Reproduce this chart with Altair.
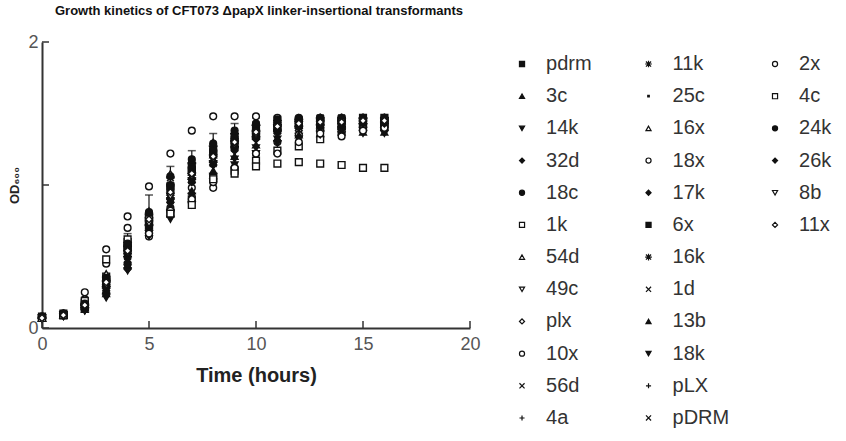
import altair as alt
import pandas as pd

times = list(range(17))

# OD600 readings per transformant (hours 0..16)
od_pdrm = [.07, .09, .15, .32, .55, .78, .98, 1.10, 1.22, 1.30, 1.36, 1.40, 1.42, 1.43, 1.43, 1.44, 1.44]
od_3c   = [.07, .09, .14, .30, .52, .74, .93, 1.06, 1.18, 1.28, 1.35, 1.40, 1.42, 1.42, 1.43, 1.43, 1.43]
od_14k  = [.06, .08, .12, .22, .42, .66, .80, .92, 1.06, 1.18, 1.26, 1.32, 1.34, 1.36, 1.37, 1.38, 1.38]
od_32d  = [.07, .09, .13, .25, .45, .68, .90, 1.04, 1.16, 1.26, 1.33, 1.38, 1.41, 1.42, 1.42, 1.43, 1.43]
od_18c  = [.08, .10, .16, .34, .58, .80, 1.00, 1.12, 1.24, 1.33, 1.39, 1.42, 1.44, 1.45, 1.45, 1.45, 1.45]
od_1k   = [.07, .09, .17, .36, .60, .72, .80, .90, 1.05, 1.10, 1.17, 1.24, 1.27, 1.32, 1.38, 1.40, 1.41]
od_54d  = [.07, .09, .15, .31, .54, .75, .95, 1.09, 1.21, 1.31, 1.38, 1.42, 1.44, 1.45, 1.45, 1.45, 1.46]
od_49c  = [.07, .09, .14, .28, .50, .72, .92, 1.06, 1.19, 1.29, 1.36, 1.40, 1.43, 1.44, 1.44, 1.44, 1.45]
od_plx  = [.07, .09, .15, .29, .41, .70, .88, 1.02, 1.14, 1.25, 1.32, 1.36, 1.38, 1.39, 1.39, 1.38, 1.38]
od_10x  = [.07, .09, .16, .33, .56, .64, .84, .98, .98, 1.12, 1.22, 1.30, 1.35, 1.38, 1.40, 1.41, 1.42]
od_56d  = [.07, .09, .14, .27, .48, .70, .89, 1.03, 1.15, 1.26, 1.34, 1.39, 1.42, 1.43, 1.43, 1.44, 1.44]
od_4a   = [.07, .09, .15, .30, .51, .73, .91, 1.05, 1.17, 1.27, 1.35, 1.39, 1.42, 1.43, 1.44, 1.44, 1.44]
od_11k  = [.07, .10, .16, .33, .57, .77, 1.05, 1.15, 1.27, 1.36, 1.42, 1.45, 1.46, 1.47, 1.47, 1.47, 1.47]
od_25c  = [.07, .09, .15, .31, .53, .76, .94, 1.07, 1.19, 1.29, 1.36, 1.41, 1.43, 1.44, 1.45, 1.45, 1.45]
od_16x  = [.07, .09, .18, .38, .62, .82, 1.08, 1.18, 1.30, 1.38, 1.44, 1.46, 1.47, 1.47, 1.47, 1.47, 1.47]
od_18x  = [.07, .09, .25, .55, .78, .99, 1.22, 1.38, 1.48, 1.48, 1.48, 1.47, 1.46, 1.46, 1.45, 1.45, 1.45]
od_17k  = [.07, .09, .13, .26, .46, .69, .88, 1.02, 1.14, 1.24, 1.32, 1.37, 1.40, 1.40, 1.40, 1.39, 1.39]
od_6x   = [.08, .10, .16, .34, .56, .78, .99, 1.12, 1.24, 1.33, 1.39, 1.43, 1.45, 1.46, 1.46, 1.47, 1.47]
od_16k  = [.07, .09, .14, .29, .50, .72, .91, 1.05, 1.17, 1.27, 1.34, 1.39, 1.41, 1.42, 1.43, 1.43, 1.43]
od_1d   = [.07, .09, .15, .31, .53, .75, .93, 1.07, 1.19, 1.29, 1.36, 1.40, 1.42, 1.43, 1.44, 1.44, 1.44]
od_13b  = [.07, .09, .13, .24, .44, .67, .85, .96, 1.10, 1.20, 1.28, 1.33, 1.35, 1.36, 1.37, 1.37, 1.37]
od_18k  = [.06, .08, .12, .21, .40, .64, .76, .86, 1.02, 1.14, 1.22, 1.29, 1.32, 1.35, 1.35, 1.36, 1.36]
od_pLX  = [.07, .09, .16, .32, .55, .77, .96, 1.09, 1.21, 1.31, 1.37, 1.41, 1.43, 1.44, 1.45, 1.45, 1.45]
od_pDRM = [.07, .09, .15, .30, .52, .74, .92, 1.06, 1.18, 1.28, 1.35, 1.40, 1.42, 1.43, 1.43, 1.44, 1.44]
od_2x   = [.07, .09, .20, .45, .70, .66, .82, .90, 1.02, 1.12, 1.22, 1.22, 1.30, 1.36, 1.34, 1.38, 1.40]
od_4c   = [.07, .09, .19, .48, .62, .76, .80, .86, 1.04, 1.08, 1.13, 1.15, 1.16, 1.15, 1.14, 1.12, 1.12]
od_24k  = [.08, .10, .17, .35, .59, .81, 1.06, 1.18, 1.29, 1.38, 1.43, 1.46, 1.47, 1.47, 1.47, 1.47, 1.47]
od_26k  = [.07, .09, .14, .28, .49, .71, .90, 1.04, 1.16, 1.26, 1.33, 1.38, 1.41, 1.42, 1.43, 1.43, 1.43]
od_8b   = [.07, .09, .15, .30, .52, .73, .92, 1.06, 1.18, 1.28, 1.35, 1.40, 1.42, 1.43, 1.44, 1.44, 1.44]
od_11x  = [.07, .09, .16, .32, .54, .76, .95, 1.08, 1.20, 1.30, 1.37, 1.41, 1.43, 1.44, 1.44, 1.45, 1.45]

# error bars drawn for the pdrm series
eb_time = [4, 5, 6, 7, 8, 9, 10, 11]
eb_lo = [.44, .63, .83, .96, 1.08, 1.17, 1.25, 1.31]
eb_hi = [.66, .93, 1.13, 1.24, 1.36, 1.43, 1.47, 1.48]

# legend layout (column, row)
legend_col1 = ["pdrm", "3c", "14k", "32d", "18c", "1k", "54d", "49c", "plx", "10x", "56d", "4a"]
legend_col2 = ["11k", "25c", "16x", "18x", "17k", "6x", "16k", "1d", "13b", "18k", "pLX", "pDRM"]
legend_col3 = ["2x", "4c", "24k", "26k", "8b", "11x"]

X_PATH = "M-1,-1L1,1M-1,1L1,-1"
PLUS_PATH = "M-1,0L1,0M0,-1L0,1"
AST_PATH = "M-1,-1L1,1M-1,1L1,-1M-1.3,0L1.3,0M0,-1.3L0,1.3"
DOT_PATH = "M-0.3,-0.3L0.3,-0.3L0.3,0.3L-0.3,0.3Z"

series = {
    "pdrm": (od_pdrm, "square", "#111"),
    "3c": (od_3c, "triangle-up", "#111"),
    "14k": (od_14k, "triangle-down", "#111"),
    "32d": (od_32d, "diamond", "#111"),
    "18c": (od_18c, "circle", "#111"),
    "1k": (od_1k, "square", "white"),
    "54d": (od_54d, "triangle-up", "white"),
    "49c": (od_49c, "triangle-down", "white"),
    "plx": (od_plx, "diamond", "white"),
    "10x": (od_10x, "circle", "white"),
    "56d": (od_56d, X_PATH, "transparent"),
    "4a": (od_4a, PLUS_PATH, "transparent"),
    "11k": (od_11k, AST_PATH, "transparent"),
    "25c": (od_25c, DOT_PATH, "#111"),
    "16x": (od_16x, "triangle-up", "white"),
    "18x": (od_18x, "circle", "white"),
    "17k": (od_17k, "diamond", "#111"),
    "6x": (od_6x, "square", "#111"),
    "16k": (od_16k, AST_PATH, "transparent"),
    "1d": (od_1d, X_PATH, "transparent"),
    "13b": (od_13b, "triangle-up", "#111"),
    "18k": (od_18k, "triangle-down", "#111"),
    "pLX": (od_pLX, PLUS_PATH, "transparent"),
    "pDRM": (od_pDRM, X_PATH, "transparent"),
    "2x": (od_2x, "circle", "white"),
    "4c": (od_4c, "square", "white"),
    "24k": (od_24k, "circle", "#111"),
    "26k": (od_26k, "diamond", "#111"),
    "8b": (od_8b, "triangle-down", "white"),
    "11x": (od_11x, "diamond", "white"),
}

names = list(series.keys())
shape_range = [series[n][1] for n in names]
fill_range = [series[n][2] for n in names]

rows = []
for n in names:
    for t, v in zip(times, series[n][0]):
        rows.append({"series": n, "time": t, "od": v})
df = pd.DataFrame(rows)

shape_enc = alt.Shape("series:N", scale=alt.Scale(domain=names, range=shape_range), legend=None)
fill_enc = alt.Fill("series:N", scale=alt.Scale(domain=names, range=fill_range), legend=None)

W, H = 428, 286
xscale = alt.Scale(domain=[0, 20], nice=False)
yscale = alt.Scale(domain=[0, 2], nice=False)

pts = alt.Chart(df).mark_point(filled=True, stroke="#111", strokeWidth=1.4, size=46, opacity=1).encode(
    x=alt.X("time:Q", scale=xscale,
            axis=alt.Axis(values=[0, 5, 10, 15, 20], format="d", title="Time (hours)", grid=False,
                          ticks=False, tickSize=0, labelPadding=7, labelFontSize=18,
                          labelColor="#555", domainColor="#333", domainWidth=2,
                          titleFontSize=20, titleFontWeight="bold", titleColor="#222",
                          titlePadding=12, labelFlush=False)),
    y=alt.Y("od:Q", scale=yscale,
            axis=alt.Axis(values=[0, 1, 2], format="d", title="OD₆₀₀", grid=False, ticks=False,
                          tickSize=0, labelPadding=4, labelFontSize=18, labelColor="#555",
                          domainColor="#333", domainWidth=2, titleFontSize=13,
                          titleFontWeight="bold", titleColor="#222", titlePadding=6,
                          labelFlush=False)),
    shape=shape_enc,
    fill=fill_enc,
)

eb_df = pd.DataFrame({"time": eb_time, "lo": eb_lo, "hi": eb_hi})
eb_rule = alt.Chart(eb_df).mark_rule(color="#111", strokeWidth=1.2).encode(
    x="time:Q", y="lo:Q", y2="hi:Q")
eb_cap = alt.Chart(eb_df).mark_tick(color="#111", orient="horizontal", size=8, thickness=1.5).encode(
    x="time:Q", y="hi:Q")

xt_df = pd.DataFrame({"time": [0, 5, 10, 15, 20]})
yt_df = pd.DataFrame({"od": [0, 1, 2]})
xticks = alt.Chart(xt_df).mark_rule(color="#333", strokeWidth=1.5).encode(
    x="time:Q", y=alt.value(H), y2=alt.value(H - 7))
yticks = alt.Chart(yt_df).mark_rule(color="#333", strokeWidth=1.5).encode(
    y="od:Q", x=alt.value(0), x2=alt.value(7))

main = alt.layer(eb_rule, eb_cap, pts, xticks, yticks).properties(
    width=W, height=H,
    title=alt.TitleParams("Growth kinetics of CFT073 ΔpapX linker-insertional transformants",
                          anchor="start", fontSize=13, fontWeight="bold", color="#111",
                          font="Liberation Sans", dx=46, offset=15),
)

leg_rows = []
for c, col in enumerate([legend_col1, legend_col2, legend_col3]):
    for r, n in enumerate(col):
        leg_rows.append({"series": n, "col": c, "row": r})
leg_df = pd.DataFrame(leg_rows)

lx = alt.X("col:Q", scale=alt.Scale(domain=[-0.174, 2.561], nice=False, zero=False), axis=None)
ly = alt.Y("row:Q", scale=alt.Scale(domain=[-0.684, 11.746], nice=False, zero=False, reverse=True), axis=None)

leg_sym = alt.Chart(leg_df).mark_point(filled=True, stroke="#111", strokeWidth=1.2, size=26, opacity=1).encode(
    x=lx, y=ly, shape=shape_enc, fill=fill_enc)
leg_txt = alt.Chart(leg_df).mark_text(align="left", baseline="middle", dx=24, fontSize=20,
                                      color="#333", font="Liberation Sans").encode(
    x=lx, y=ly, text="series:N")
legend = alt.layer(leg_sym, leg_txt).properties(width=346, height=400)

chart = alt.hconcat(main, legend, spacing=30).properties(
    bounds="flush",
    padding={"left": 8, "top": 5, "right": 0, "bottom": 0},
).configure(font="Liberation Sans").configure_view(strokeWidth=0, stroke="transparent")

chart.save("out.html", embed_options={"renderer": "svg", "actions": False})
